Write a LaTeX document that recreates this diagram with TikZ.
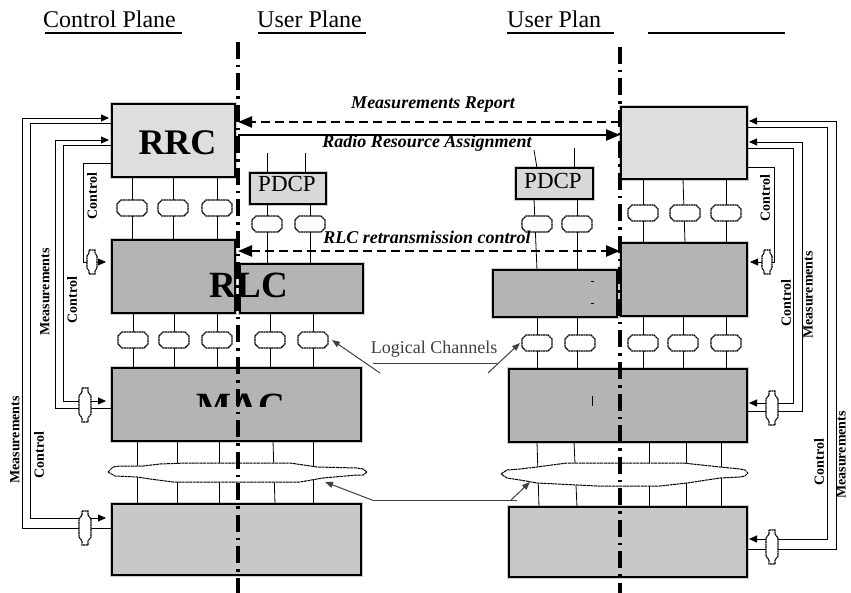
\documentclass[tikz,border=0pt]{standalone}
\usepackage{fontspec}
\setmainfont{Liberation Serif}
\usetikzlibrary{arrows.meta}
\definecolor{rrcfill}{HTML}{DEDEDE}
\definecolor{rlcfill}{HTML}{B4B4B4}
\definecolor{phyfill}{HTML}{C8C8C8}
\definecolor{pdcpfill}{HTML}{D8D8D8}
\definecolor{halo}{HTML}{CDCDCD}
\definecolor{lcgray}{HTML}{404040}
\begin{document}
\begin{tikzpicture}[x=1pt,y=-1pt,
  box/.style={draw=black, line width=1.1pt, preaction={draw=halo, line width=4.5pt}, inner sep=0pt, outer sep=0pt},
  sapline/.style={draw=black, fill=white, line width=1.1pt, dash pattern=on 2pt off 0.5pt},
  hsap/.pic={\path[sapline] (-15,-4) -- (-11,-8) -- (11,-8) -- (15,-4) -- (15,4) -- (11,8) -- (-11,8) -- (-15,4) -- cycle;},
  vsap/.pic={\path[sapline] (-3,-17) -- (3,-17) -- (3,-13) -- (6,-9) -- (6,9) -- (3,13) -- (3,17) -- (-3,17) -- (-3,13) -- (-6,9) -- (-6,-9) -- (-3,-13) -- cycle;},
  vsaps/.pic={\path[sapline] (-3,-12) -- (3,-12) -- (3,-9) -- (5,-6) -- (5,6) -- (3,9) -- (3,12) -- (-3,12) -- (-3,9) -- (-5,6) -- (-5,-6) -- (-3,-9) -- cycle;},
  chan/.style={line width=0.8pt},
  fb/.style={line width=0.9pt, -{Triangle[length=8pt,width=7pt]}},
  sep/.style={line width=3.2pt, dash pattern=on 17pt off 6pt on 2.5pt off 6pt},
  bigarrow/.style={line width=2.4pt},
  head/.style={font=\fontsize{24}{24}\selectfont, anchor=base west, inner sep=0pt},
  ital/.style={font=\fontsize{18}{18}\selectfont\bfseries\itshape, inner sep=0pt},
  side/.style={font=\fontsize{14}{14}\selectfont\bfseries, rotate=90, inner sep=0pt},
  blob/.style={draw=black, fill=white, line width=1pt, dash pattern=on 3pt off 0.6pt}
]
\useasboundingbox (0,0) rectangle (851,593);
\fill[white] (0,0) rectangle (851,593);

% headers
\node[head] (hcp) at (43,28) {Control Plane};
\node[head] (hup1) at (257,28) {User Plane};
\node[head] (hup2) at (507,28) {User Plan};
\draw[line width=2pt] (45,33) coordinate (u1a) -- (182,33) coordinate (u1b);
\draw[line width=2pt] (258,33) coordinate (u2a) -- (366,33) coordinate (u2b);
\draw[line width=2pt] (507,33) coordinate (u3a) -- (614,33) coordinate (u3b);
\draw[line width=2pt] (648,33) coordinate (u4a) -- (785,33) coordinate (u4b);

% boxes
\node[box, fill=rrcfill, minimum width=123pt, minimum height=73pt] (rrcL) at (173.5,140.5) {};
\node[box, fill=rlcfill, minimum width=123pt, minimum height=73pt] (rlcL) at (173.5,276.5) {};
\node[box, fill=rlcfill, minimum width=123pt, minimum height=49pt] (rlcUL) at (301.5,288.5) {};
\node[box, fill=pdcpfill, minimum width=76pt, minimum height=31pt] (pdcpL) at (288,188.5) {};
\node[box, fill=rlcfill, minimum width=249pt, minimum height=73pt] (macL) at (236.5,404.5) {};
\node[box, fill=phyfill, minimum width=249pt, minimum height=71pt] (phyL) at (236.5,539.5) {};
\node[box, fill=rrcfill, minimum width=126pt, minimum height=72pt] (rrcR) at (684,143) {};
\node[box, fill=rlcfill, minimum width=126pt, minimum height=73pt] (rlcR) at (684,279.5) {};
\node[box, fill=rlcfill, minimum width=124pt, minimum height=47pt] (rlcUR) at (555,293.5) {};
\node[box, fill=pdcpfill, minimum width=77pt, minimum height=31pt] (pdcpR) at (554.5,183.5) {};
\node[box, fill=rlcfill, minimum width=238pt, minimum height=73pt] (macR) at (628,405.5) {};
\node[box, fill=phyfill, minimum width=238pt, minimum height=70pt] (phyR) at (628,542) {};

% box texts
\node[font=\fontsize{36}{36}\selectfont\bfseries, anchor=base, inner sep=0pt] (trrc) at (177.5,155) {RRC};
\node[font=\fontsize{37}{37}\selectfont\bfseries, anchor=base, inner sep=0pt] (trlc) at (249,298) {RLC};
\begin{scope}
\clip (150,385) rectangle (330,406);
\node[font=\fontsize{37}{37}\selectfont\bfseries, anchor=base, inner sep=0pt] (tmac) at (241,418) {MAC};
\end{scope}
\node[font=\fontsize{23}{23}\selectfont, anchor=base, inner sep=0pt] (tpdcpL) at (287,192) {PDCP};
\node[font=\fontsize{23}{23}\selectfont, anchor=base, inner sep=0pt] (tpdcpR) at (553,189) {PDCP};
\draw[line width=0.8pt] (592,396) -- (592,406);
\draw[line width=0.6pt] (591,281) -- (594,281);
\draw[line width=0.6pt] (591,303) -- (594,303);

% SAP positions
\foreach \n/\x/\y in {a1/132/208,a2/173/208,a3/217/208,
                      b1/133/340,b2/174/340,b3/217/340,
                      c1/267/224,c2/310/224,d1/270/340,d2/313/340,
                      e1/537/224,e2/577/224,f1/537/343,f2/580/343,
                      g1/643/213,g2/685/213,g3/726/213,
                      h1/643/343,h2/683/343,h3/726/343}
  \coordinate (\n) at (\x,\y);

% channel lines
\draw[chan] (rrcL.south -| a1) -- (rlcL.north -| a1);
\draw[chan] (rrcL.south -| a2) -- (rlcL.north -| a2);
\draw[chan] (rrcL.south -| a3) -- (rlcL.north -| a3);
\draw[chan] (rlcL.south -| b1) -- (macL.north -| b1);
\draw[chan] (rlcL.south -| b2) -- (macL.north -| b2);
\draw[chan] (rlcL.south -| b3) -- (macL.north -| b3);
\draw[chan] (267,153) coordinate (pl1) -- (pdcpL.north -| pl1);
\draw[chan] (305,153) coordinate (pl2) -- (pdcpL.north -| pl2);
\draw[chan] (pdcpL.south -| c1) -- (rlcUL.north -| c1);
\draw[chan] (pdcpL.south -| c2) -- (rlcUL.north -| c2);
\draw[chan] (rlcUL.south -| d1) -- (macL.north -| d1);
\draw[chan] (rlcUL.south -| d2) -- (macL.north -| d2);
\draw[chan] (534,150) coordinate (pr1) -- ([xshift=3pt]pdcpR.north -| pr1);
\draw[chan] (574,148) coordinate (pr2) -- (pdcpR.north -| pr2);
\draw[chan] ([xshift=-3pt]pdcpR.south -| e1) -- (rlcUR.north -| e1);
\draw[chan] (pdcpR.south -| e2) -- (rlcUR.north -| e2);
\draw[chan] (rlcUR.south -| f1) -- (macR.north -| f1);
\draw[chan] (rlcUR.south -| 577,0) -- (macR.north -| 577,0);
\draw[chan] (rrcR.south -| g1) -- (rlcR.north -| g1);
\draw[chan] (rrcR.south -| 683,0) -- (rlcR.north -| g2);
\draw[chan] (rrcR.south -| g3) -- (rlcR.north -| g3);
\draw[chan] (rlcR.south -| h1) -- (macR.north -| h1);
\draw[chan] (rlcR.south -| h2) -- (macR.north -| h2);
\draw[chan] (rlcR.south -| h3) -- (macR.north -| h3);
% transport channel lines
\foreach \xa/\xb in {137/137,177/177,219/219,273/275,313/313}
  \draw[chan] (macL.south -| \xa,0) -- (phyL.north -| \xb,0);
\foreach \xa/\xb in {537/539,574/577,649/649,686/686,721/721}
  \draw[chan] (macR.south -| \xa,0) -- (phyR.north -| \xb,0);

% transport channel blobs
\draw[blob] (108,472) -- (113,467) -- (120,466) -- (143,466) -- (160,464) -- (187,463) -- (290,463)
  -- (317,467) -- (357,468) -- (363,469) -- (367,472) -- (363,475) -- (357,475) -- (323,478) -- (300,482)
  -- (173,482) -- (150,479) -- (137,477) -- (115,476) -- cycle;
\draw[blob] (501,474) -- (507,470) -- (520,469) -- (537,467) -- (567,463) -- (683,463) -- (720,467)
  -- (740,469) -- (745,470) -- (748,473) -- (745,476) -- (740,477) -- (720,478) -- (687,483) -- (660,486)
  -- (597,486) -- (537,483) -- (520,480) -- (507,478) -- cycle;

% SAP symbols
\foreach \n in {a1,a2,a3,b1,b2,b3,c1,c2,d1,d2,e1,e2,f1,f2,g1,g2,g3,h1,h2,h3}
  \pic at (\n) {hsap};

% feedback loops, left
\coordinate (lm1a) at (22,528); \coordinate (lm1b) at (22,118);
\coordinate (lc1a) at (30,123); \coordinate (lc1b) at (30,518);
\coordinate (lm2a) at (55,408); \coordinate (lm2b) at (55,140);
\coordinate (lc2a) at (63,145); \coordinate (lc2b) at (63,401);
\coordinate (lc3a) at (83,163); \coordinate (lc3b) at (83,262);
\draw[fb] (phyL.west |- lm1a) -- (lm1a) -- (lm1b) -- ([xshift=-3pt]rrcL.west |- lm1b);
\draw[fb] (rrcL.west |- lc1a) -- (lc1a) -- (lc1b) -- ([xshift=-6pt]phyL.west |- lc1b);
\draw[fb] (macL.west |- lm2a) -- (lm2a) -- (lm2b) -- ([xshift=-3pt]rrcL.west |- lm2b);
\draw[fb] (rrcL.west |- lc2a) -- (lc2a) -- (lc2b) -- ([xshift=-6pt]macL.west |- lc2b);
\draw[fb] (rrcL.west |- lc3a) -- (lc3a) -- (lc3b) -- ([xshift=-6pt]rlcL.west |- lc3b);
\pic at (85,528) {vsap};
\pic at (85,405) {vsap};
\pic at (92,262) {vsaps};

% feedback loops, right
\coordinate (rm1a) at (836,549); \coordinate (rm1b) at (836,121);
\coordinate (rc1a) at (827,127); \coordinate (rc1b) at (827,539);
\coordinate (rm2a) at (802,411); \coordinate (rm2b) at (802,142);
\coordinate (rc2a) at (793,148); \coordinate (rc2b) at (793,403);
\coordinate (rc3a) at (774,167); \coordinate (rc3b) at (774,262);
\draw[fb] (phyR.east |- rm1a) -- (rm1a) -- (rm1b) -- ([xshift=2pt]rrcR.east |- rm1b);
\draw[fb] (rrcR.east |- rc1a) -- (rc1a) -- (rc1b) -- ([xshift=2pt]phyR.east |- rc1b);
\draw[fb] (macR.east |- rm2a) -- (rm2a) -- (rm2b) -- ([xshift=2pt]rrcR.east |- rm2b);
\draw[fb] (rrcR.east |- rc2a) -- (rc2a) -- (rc2b) -- ([xshift=2pt]macR.east |- rc2b);
\draw[fb] (rrcR.east |- rc3a) -- (rc3a) -- (rc3b) -- ([xshift=3pt]rlcR.east |- rc3b);
\pic at (772,547) {vsap};
\pic at (772,408) {vsap};
\pic at (767,262) {vsaps};

% side labels
\node[side] (lbl1) at (92,196) {Control};
\node[side] (lbl2) at (45,292) {Measurements};
\node[side] (lbl3) at (72,300) {Control};
\node[side] (lbl4) at (15,440) {Measurements};
\node[side] (lbl5) at (39,455) {Control};
\node[side] (lbr1) at (765,198) {Control};
\node[side] (lbr2) at (808,295) {Measurements};
\node[side] (lbr3) at (786,303) {Control};
\node[side] (lbr4) at (841,455) {Measurements};
\node[side] (lbr5) at (819,462) {Control};

% plane separators
\coordinate (sl0) at (238,42); \coordinate (sl1) at (238,593);
\coordinate (sr0) at (620,47); \coordinate (sr1) at (620,593);
\draw[sep] (sl0) -- (sl1);
\draw[sep] (sr0) -- (sr1);

% peer arrows
\draw[bigarrow, dash pattern=on 9pt off 5pt, -{Triangle[length=14pt,width=11pt]}] (sr0 |- 0,122) -- (sl0 |- 0,122);
\draw[bigarrow, -{Triangle[length=14pt,width=11pt]}] (sl0 |- 0,135) -- (sr0 |- 0,135);
\draw[bigarrow, dash pattern=on 9pt off 5pt, {Triangle[length=14pt,width=11pt]}-{Triangle[length=14pt,width=11pt]}] (sl0 |- 0,251) -- (sr0 |- 0,251);
\node[ital] (tmr) at (433,105) {Measurements Report};
\node[ital] (trra) at (427,143) {Radio Resource Assignment};
\node[ital] (trlcr) at (427,237) {RLC retransmission control};

% logical / transport channel pointers
\node[font=\fontsize{18}{18}\selectfont, text=lcgray, inner sep=0pt] (tlc) at (434,349) {Logical Channels};
\draw[lcgray, line width=0.8pt] (373,363) coordinate (lcu0) -- (497,363) coordinate (lcu1);
\draw[lcgray, line width=1pt, -{Triangle[length=8pt,width=6pt]}] (380,373) coordinate (lca0) -- ([xshift=19pt]d2);
\draw[lcgray, line width=1pt, -{Triangle[length=8pt,width=6pt]}] (488,373) coordinate (lca1) -- ([xshift=-17pt]f1);
\coordinate (tc0) at (372,500); \coordinate (tc1) at (517,500);
\draw[lcgray, line width=0.8pt] (tc0) -- (tc1);
\draw[lcgray, line width=1pt, -{Triangle[length=8pt,width=6pt]}] (tc0) -- (325,482);
\draw[lcgray, line width=1pt, -{Triangle[length=8pt,width=6pt]}] (511,500) -- (530,482);
\end{tikzpicture}
\end{document}
